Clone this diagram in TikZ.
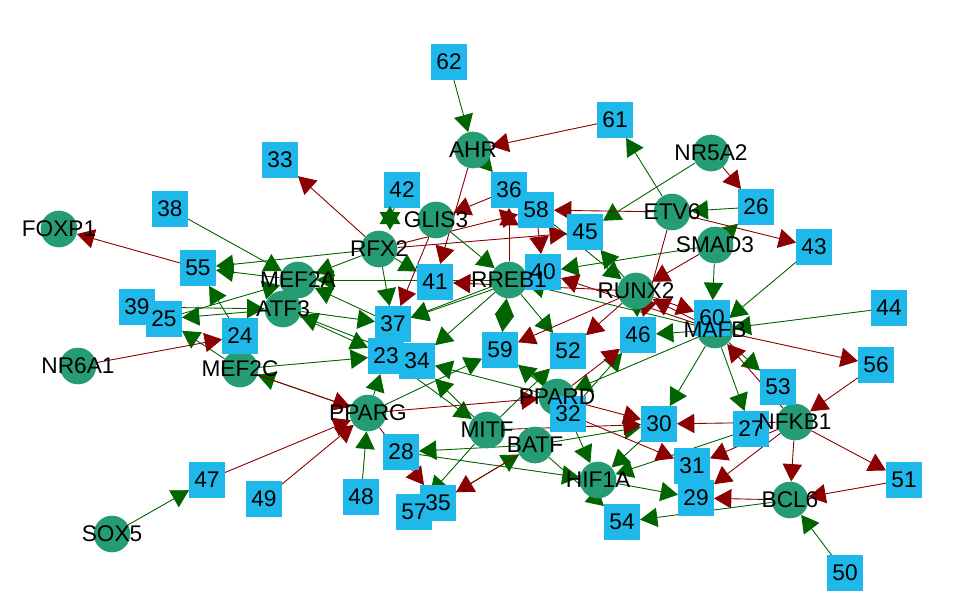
\documentclass[tikz,border=0pt]{standalone}
\usepackage{fontspec}
\setmainfont{Liberation Sans}
\usetikzlibrary{arrows.meta,shapes.geometric,backgrounds}
\definecolor{circ}{RGB}{37,156,116}
\definecolor{sq}{RGB}{30,184,234}
\definecolor{eg}{RGB}{0,100,0}
\definecolor{er}{RGB}{139,0,0}
\tikzset{
  cnode/.style={circle,fill=circ,minimum size=27.5pt,inner sep=0pt,draw=none},
  snode/.style={rectangle,fill=sq,minimum size=26.6pt,inner sep=0pt,draw=none},
  lab/.style={inner sep=0pt,text=black,font=\fontsize{17}{17}\selectfont},
  ge/.style={draw=eg,line width=0.65pt,-{Triangle[length=13pt,width=14.5pt]},fill=eg},
  re/.style={draw=er,line width=0.65pt,-{Triangle[length=13pt,width=14.5pt]},fill=er},
}
\begin{document}
\begin{tikzpicture}[x=0.75pt,y=-0.75pt]
\useasboundingbox (0,0) rectangle (960,615);
% circles
\foreach \nm/\x/\y in {FOXP1/59/229,NR6A1/78/366,SOX5/112/534,MEF2C/240/369,MEF2A/298/280,ATF3/283/309,RFX2/379/249,GLIS3/436/220,AHR/473/150,RREB1/509/280,RUNX2/636/291,ETV6/672/212,NR5A2/711/153,SMAD3/715/245,MAFB/715/330,PPARD/557/397,PPARG/368/413,MITF/487/430,BATF/535/445,HIF1A/598/480,NFKB1/795/422,BCL6/790/500}
  \node[cnode] (\nm) at (\x,\y) {};
% squares
\foreach \nm/\x/\y in {62/449/62,61/615/120,33/280/160,42/402/190,36/509/190,58/536/210,38/170/209,26/756/207,45/585/232,43/814/247,55/198/268,40/543/272,41/435/282,39/137/307,25/164/319,24/240/336,23/386/356,37/393/324,34/417/361,59/500/350,52/568/351,46/638/335,60/712/318,44/889/308,56/876/365,53/778/387,32/568/414,30/659/424,27/751/429,31/692/466,29/696/498,28/401/452,48/361/497,57/414/512,35/438/503,47/207/480,49/264/499,54/622/522,51/904/480,50/845/573}
  \node[snode] (n\nm) at (\x,\y) {};
% star of arrowheads near 42
\node[star,star points=6,star point ratio=1.73,minimum size=18pt,inner sep=0pt,fill=eg] (star42) at (390,218) {};
\begin{scope}[on background layer]
\foreach \a/\b in {n62/AHR,AHR/n36,n38/MEF2A,SOX5/n47,n48/PPARG,PPARG/MEF2C,MEF2C/n23,MEF2C/n25,PPARG/n23,PPARG/n59,RFX2/MEF2A,RFX2/n55,MEF2A/n55,n25/MEF2A,n24/n55,n39/ATF3,ATF3/n25,ATF3/n37,ATF3/n23,n34/ATF3,n37/MEF2A,RFX2/n37,RFX2/n41,GLIS3/RREB1,RREB1/MEF2A,RREB1/n37,RREB1/n34,RREB1/n59,n59/RREB1,RREB1/n52,RUNX2/n46,RUNX2/n45,n58/RUNX2,SMAD3/n40,SMAD3/n60,SMAD3/n26,n26/ETV6,NR5A2/n45,ETV6/n61,n43/MAFB,n44/MAFB,MAFB/n53,MAFB/RREB1,MAFB/n46,MAFB/PPARD,MAFB/n30,MAFB/n27,n32/n46,BATF/n30,n32/HIF1A,MITF/n52,PPARD/n59,PPARD/n34,MITF/n34,n23/MITF,MITF/n57,BATF/n28,n28/HIF1A,BATF/n54,n35/BATF,n40/n37,n27/HIF1A,n30/HIF1A,HIF1A/n29,BCL6/n54,n50/BCL6}
  \draw[ge] (\a) -- (\b);
\foreach \a/\b in {n61/AHR,AHR/n41,RFX2/n33,n55/FOXP1,NR6A1/n24,n47/PPARG,n49/PPARG,MEF2C/PPARG,PPARG/PPARD,PPARG/n35,RFX2/n58,RFX2/n45,GLIS3/n37,n36/GLIS3,RREB1/n36,RUNX2/n41,RUNX2/n59,RUNX2/n52,n58/n40,SMAD3/RUNX2,NR5A2/n26,ETV6/n58,ETV6/n43,ETV6/n46,MAFB/n56,NFKB1/MAFB,RUNX2/n60,MAFB/RUNX2,MAFB/n40,PPARD/n46,PPARD/n30,MITF/n30,n32/n31,BATF/n35,NFKB1/n30,NFKB1/n31,NFKB1/n29,NFKB1/BCL6,NFKB1/n51,n56/NFKB1,BCL6/n29,n51/BCL6}
  \draw[re] (\a) -- (\b);
\draw[eg,line width=0.65pt] (star42) -- (n42);
\end{scope}
% labels
\foreach \nm in {FOXP1,NR6A1,SOX5,MEF2C,MEF2A,ATF3,RFX2,GLIS3,AHR,RREB1,RUNX2,ETV6,NR5A2,SMAD3,MAFB,PPARD,PPARG,MITF,BATF,HIF1A,NFKB1,BCL6}
  \node[lab] (t\nm) at (\nm) {\nm};
\foreach \nm in {62,61,33,42,36,58,38,26,45,43,55,40,41,39,25,24,23,37,34,59,52,46,60,44,56,53,32,30,27,31,29,28,48,57,35,47,49,54,51,50}
  \node[lab] (tn\nm) at (n\nm) {\nm};
\end{tikzpicture}
\end{document}
